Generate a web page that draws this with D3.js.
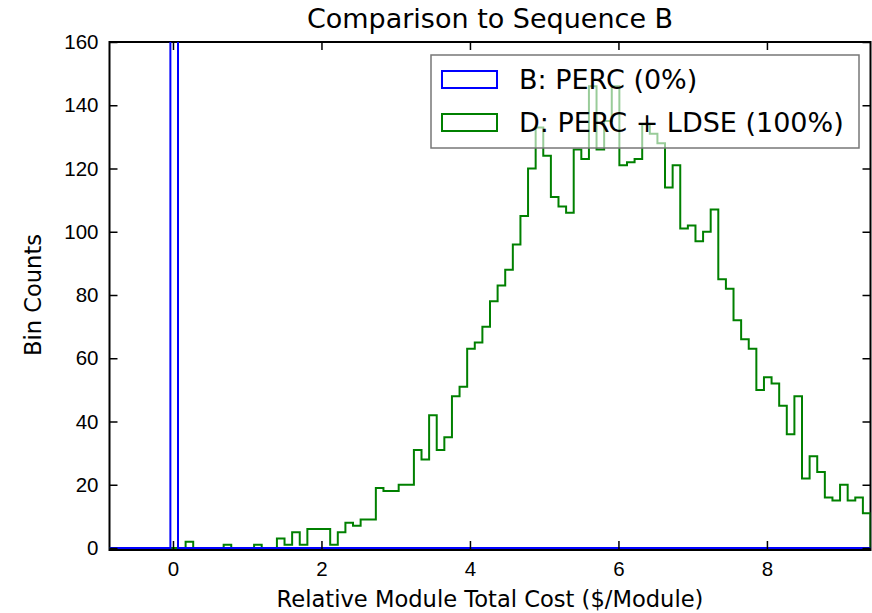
<!DOCTYPE html>
<html>
<head>
<meta charset="utf-8">
<script src="https://cdn.jsdelivr.net/npm/d3@7"></script>
<style>
  body { margin: 0; background: #fff; }
  svg { display: block; font-family: "DejaVu Sans", sans-serif; }
  .tick line { stroke: #000; stroke-width: 1.5; }
  .domain { display: none; }
</style>
</head>
<body>
<div id="chart"></div>
<script>
// histogram range, shared by both series (100 bins)
var binMin = -0.855;
var binMax = 9.395;
var binCount = 100;

// B: PERC (0%) -- every sample sits in the bin around zero
var countsB = [0, 0, 0, 0, 0, 0, 0, 0, 5000, 0,
  0, 0, 0, 0, 0, 0, 0, 0, 0, 0,
  0, 0, 0, 0, 0, 0, 0, 0, 0, 0,
  0, 0, 0, 0, 0, 0, 0, 0, 0, 0,
  0, 0, 0, 0, 0, 0, 0, 0, 0, 0,
  0, 0, 0, 0, 0, 0, 0, 0, 0, 0,
  0, 0, 0, 0, 0, 0, 0, 0, 0, 0,
  0, 0, 0, 0, 0, 0, 0, 0, 0, 0,
  0, 0, 0, 0, 0, 0, 0, 0, 0, 0,
  0, 0, 0, 0, 0, 0, 0, 0, 0, 0];

// D: PERC + LDSE (100%)
var countsD = [0, 0, 0, 0, 0, 0, 0, 0, 0, 0,
  2, 0, 0, 0, 0, 1, 0, 0, 0, 1,
  0, 0, 3, 1, 5, 1, 6, 6, 6, 1,
  5, 8, 7, 9, 9, 19, 18, 18, 20, 20,
  31, 28, 42, 31, 35, 48, 51, 63, 65, 70,
  78, 83, 88, 96, 105, 120, 133, 124, 111, 108,
  106, 126, 123, 146, 126, 135, 146, 121, 122, 123,
  134, 131, 128, 114, 121, 101, 102, 97, 100, 107,
  85, 82, 72, 66, 63, 50, 54, 52, 45, 36,
  48, 22, 29, 24, 16, 15, 20, 15, 16, 11];

var xTicks = [0, 2, 4, 6, 8];
var yTicks = [0, 20, 40, 60, 80, 100, 120, 140, 160];
var legendLabels = ["B: PERC (0%)", "D: PERC + LDSE (100%)"];
var legendColors = ["#0000ff", "#008000"];

var W = 872, H = 613;
var margin = { top: 42, right: 1.5, bottom: 65, left: 109.5 },
  width = W - margin.left - margin.right,
  height = H - margin.top - margin.bottom;

var svg = d3.select("#chart").append("svg")
  .attr("width", W)
  .attr("height", H);

var g = svg.append("g")
  .attr("transform", "translate(" + margin.left + "," + margin.top + ")");

var x = d3.scaleLinear().domain([binMin, binMax]).range([0, width]);
var y = d3.scaleLinear().domain([0, 160]).range([height, 0]);

var edges = d3.range(binCount + 1).map(function (i) {
  return binMin + i * (binMax - binMin) / binCount;
});

g.append("clipPath").attr("id", "plotClip")
  .append("rect").attr("x", 0).attr("y", 0).attr("width", width).attr("height", height + 1);

// outline of a step histogram
function stepPoints(counts) {
  var pts = [[edges[0], 0]];
  counts.forEach(function (c, i) {
    pts.push([edges[i], c]);
    pts.push([edges[i + 1], c]);
  });
  pts.push([edges[binCount], 0]);
  return pts;
}

var line = d3.line()
  .x(function (d) { return x(d[0]); })
  .y(function (d) { return y(d[1]); });

// frame (bottom edge sits just under the zero line)
g.append("rect")
  .attr("x", 0).attr("y", 0)
  .attr("width", width).attr("height", height + 2)
  .attr("fill", "none")
  .attr("stroke", "#000")
  .attr("stroke-width", 2);

var plot = g.append("g").attr("clip-path", "url(#plotClip)");

// D first, B on top (matplotlib draws the first dataset last)
plot.append("path")
  .datum(stepPoints(countsD))
  .attr("d", line)
  .attr("fill", "none")
  .attr("stroke", legendColors[1])
  .attr("stroke-width", 2)
  .attr("stroke-linejoin", "miter");

plot.append("path")
  .datum(stepPoints(countsB))
  .attr("d", line)
  .attr("fill", "none")
  .attr("stroke", legendColors[0])
  .attr("stroke-width", 2)
  .attr("stroke-linejoin", "miter");

// axes, ticks pointing inward on all four sides
g.append("g")
  .style("font-size", "20.5px")
  .call(d3.axisLeft(y).tickValues(yTicks).tickSizeInner(-8).tickSizeOuter(0).tickPadding(11))
  .selectAll("text").attr("fill", "#000");

g.append("g")
  .call(d3.axisRight(y).tickValues(yTicks).tickSizeInner(-8).tickSizeOuter(0).tickFormat(""))
  .attr("transform", "translate(" + width + ",0)");

g.append("g")
  .attr("transform", "translate(0," + (height + 1) + ")")
  .style("font-size", "20.5px")
  .call(d3.axisBottom(x).tickValues(xTicks).tickSizeInner(-8).tickSizeOuter(0).tickPadding(12))
  .selectAll("text").attr("fill", "#000");

g.append("g")
  .call(d3.axisTop(x).tickValues(xTicks).tickSizeInner(-8).tickSizeOuter(0).tickFormat(""));

// labels
svg.append("text")
  .attr("x", margin.left + width / 2)
  .attr("y", 28)
  .attr("text-anchor", "middle")
  .style("font-size", "27px")
  .text("Comparison to Sequence B");

svg.append("text")
  .attr("x", margin.left + width / 2)
  .attr("y", 607)
  .attr("text-anchor", "middle")
  .style("font-size", "22.6px")
  .text("Relative Module Total Cost ($/Module)");

svg.append("text")
  .attr("transform", "translate(41," + (margin.top + height / 2) + ") rotate(-90)")
  .attr("text-anchor", "middle")
  .style("font-size", "22.6px")
  .text("Bin Counts");

// legend
var legend = svg.append("g")
  .attr("transform", "translate(431,55)");

legend.append("rect")
  .attr("width", 428)
  .attr("height", 93)
  .attr("fill", "#fff")
  .attr("fill-opacity", 0.6)
  .attr("stroke", "#777")
  .attr("stroke-width", 1.5);

var legendGroups = legend.selectAll("g.item")
  .data(legendLabels)
  .enter().append("g")
  .attr("class", "item")
  .attr("transform", function (d, i) {
    return "translate(0," + (24.5 + i * 43) + ")";
  });

legendGroups.append("rect")
  .attr("x", 11)
  .attr("y", -8.5)
  .attr("width", 55)
  .attr("height", 17)
  .attr("fill", "none")
  .attr("stroke", function (d, i) { return legendColors[i]; })
  .attr("stroke-width", 2);

legendGroups.append("text")
  .attr("x", 88)
  .attr("y", 9.5)
  .style("font-size", "27px")
  .text(function (d) { return d; });
</script>
</body>
</html>
